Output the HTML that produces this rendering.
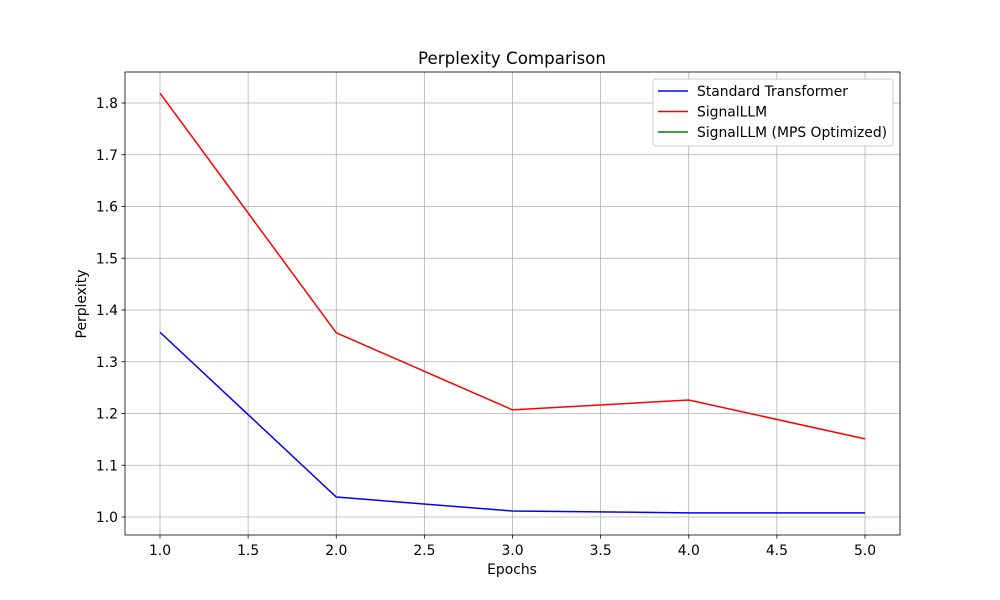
<!DOCTYPE html>
<html><head><meta charset="utf-8"><style>body{margin:0;background:#fff}svg{display:block;font-family:"DejaVu Sans","Liberation Sans",sans-serif}</style></head>
<body>
<svg id="chart" width="1000" height="600"></svg>
<script>
const epochs=[1,2,3,4,5];
const standardValues=[1.357,1.0386,1.0116,1.008,1.008];
const signalValues=[1.819,1.356,1.207,1.226,1.151];
const mpsValues=[];
const xTicks=[1.0,1.5,2.0,2.5,3.0,3.5,4.0,4.5,5.0];
const yTicks=[1.0,1.1,1.2,1.3,1.4,1.5,1.6,1.7,1.8];
const L=125,R=900,T=72,B=535;
const xs=v=>160+(v-1)*(865-160)/4;
const ys=v=>517-(v-1)*(517-103)/0.8;
const svg=document.getElementById('chart');
const NS='http://www.w3.org/2000/svg';
function mk(tag,attrs,txt){const e=document.createElementNS(NS,tag);for(const k in attrs)e.setAttribute(k,attrs[k]);if(txt!=null)e.textContent=txt;svg.appendChild(e);return e;}
let e;
e=mk('rect',{x:L,y:T,width:R-L,height:B-T,fill:'#fff'});


xTicks.forEach(t=>{const x=xs(t);
e=mk('line',{x1:x,x2:x,y1:T,y2:B,stroke:'#b0b0b0','stroke-width':0.8});


mk('line',{x1:x,x2:x,y1:B,y2:B+3.5,stroke:'#000','stroke-width':0.8});
e=mk('text',{x:x,y:B+20,'font-size':13.9,'text-anchor':'middle'},t.toFixed(1));

});
yTicks.forEach(t=>{const y=ys(t);
e=mk('line',{x1:L,x2:R,y1:y,y2:y,stroke:'#b0b0b0','stroke-width':0.8});


mk('line',{x1:L-3.5,x2:L,y1:y,y2:y,stroke:'#000','stroke-width':0.8});
e=mk('text',{x:L-7,y:y+5,'font-size':13.9,'text-anchor':'end'},t.toFixed(1));

});
function series(vals,color,name){if(!vals.length)return;
e=mk('polyline',{points:vals.map((v,i)=>xs(epochs[i])+','+ys(v)).join(' '),fill:'none',stroke:color,'stroke-width':1.5});

}
series(standardValues,'blue','standard-transformer-line');
series(signalValues,'red','signalllm-line');
series(mpsValues,'green','signalllm-mps-line');
e=mk('rect',{x:L,y:T,width:R-L,height:B-T,fill:'none',stroke:'#000','stroke-width':0.8});


e=mk('text',{x:512,y:64,'font-size':16.7,'text-anchor':'middle'},'Perplexity Comparison');


e=mk('text',{x:512,y:574,'font-size':13.9,'text-anchor':'middle'},'Epochs');


e=mk('text',{x:86,y:304,'font-size':13.9,'text-anchor':'middle',transform:'rotate(-90 86 304)'},'Perplexity');


e=mk('rect',{x:653,y:79,width:240,height:67,fill:'#fff',stroke:'#ccc','stroke-width':1,rx:3});


[['Standard Transformer','blue'],['SignalLLM','red'],['SignalLLM (MPS Optimized)','green']].forEach((d,i)=>{const y=91+i*20.5;
e=mk('line',{x1:658,x2:688,y1:y,y2:y,stroke:d[1],'stroke-width':1.5});


e=mk('text',{x:697,y:y+5,'font-size':13.9},d[0]);

});
</script>
</body></html>
